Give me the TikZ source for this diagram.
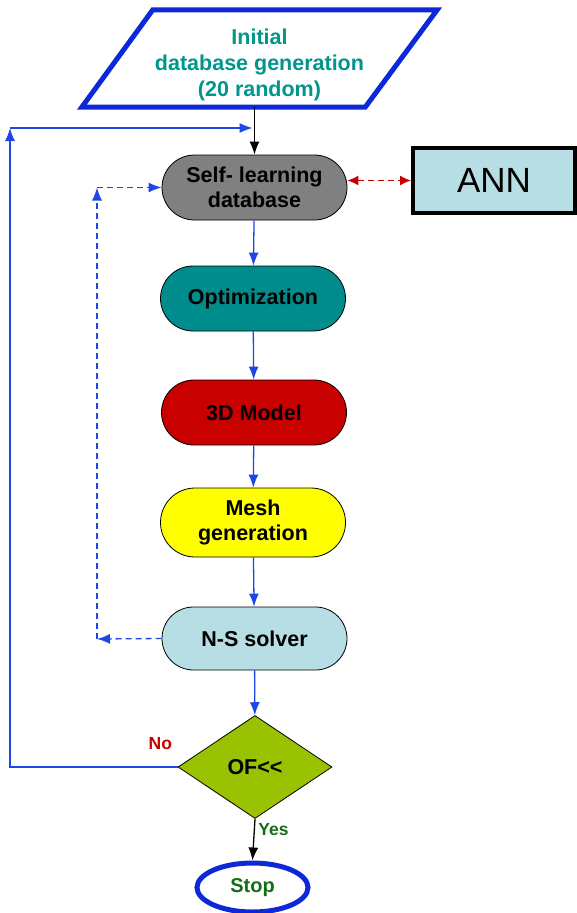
\documentclass[tikz,border=0pt]{standalone}
\usepackage{fontspec}
\setmainfont{Liberation Sans}
\usetikzlibrary{shapes,arrows.meta,positioning,calc}

\definecolor{frameblue}{RGB}{12,40,215}
\definecolor{linkblue}{RGB}{30,70,230}
\definecolor{tealtext}{RGB}{0,150,140}
\definecolor{optteal}{RGB}{0,140,140}
\definecolor{modelred}{RGB}{200,0,0}
\definecolor{meshyellow}{RGB}{255,255,0}
\definecolor{paleblue}{RGB}{183,222,228}
\definecolor{ofgreen}{RGB}{153,194,0}
\definecolor{yesgreen}{RGB}{20,110,20}

\begin{document}
\begin{tikzpicture}[x=1pt, y=-1pt,
    proc/.style={draw, rounded rectangle, line width=0.8pt, minimum width=185pt, minimum height=65pt,
        inner sep=0pt, align=center, font=\fontsize{21.5}{25}\selectfont\bfseries},
    tip/.style={-{Latex[length=13pt,width=10pt]}, line width=1.3pt},
    flow/.style={tip, linkblue},
    back/.style={flow, dashed, dash pattern=on 6pt off 4pt}
]
\useasboundingbox (0,0) rectangle (577,913);

% Input
\node[minimum width=355pt, minimum height=97pt, inner sep=0pt,
    align=center, text=tealtext, font=\fontsize{21.5}{26}\selectfont\bfseries] (init) at (259.5,64.5) {
    Initial\\database generation\\(20 random)
};
\draw[frameblue, line width=5pt] ($(init.north west)+(71,-6)$) -- ($(init.north east)+(0,-6)$)
    -- ($(init.south east)+(-72,-6)$) -- ($(init.south west)+(0,-6)$) -- cycle;

% Main loop
\node[proc, fill=gray] (self) at (254.5,187.5) {Self- learning\\database};
\node[proc, fill=optteal] (opt) at (253,298.5) {Optimization};
\node[proc, fill=modelred] (model) at (254,412.5) {3D Model};
\node[proc, fill=meshyellow, minimum height=69pt] (mesh) at (253,522.5) {Mesh\\generation};
\node[proc, fill=paleblue, minimum height=63pt] (solver) at (254.5,638.5) {N-S solver};

% ANN
\node[draw, line width=4pt, fill=paleblue, minimum width=162pt, minimum height=65pt,
    font=\fontsize{35}{40}\selectfont] (ann) at (494,180.5) {ANN};

% Decision and end
\node[draw, diamond, line width=0.8pt, fill=ofgreen, aspect=1.5, minimum width=154pt, minimum height=103pt,
    inner sep=0pt, font=\fontsize{21.5}{25}\selectfont\bfseries] (dec) at (255,767) {OF{<}{<}};
\node[draw=frameblue, ellipse, line width=5pt, minimum width=111pt, minimum height=49pt, inner sep=0pt,
    text=yesgreen, font=\fontsize{20}{24}\selectfont\bfseries] (stop) at (252.5,887.5) {Stop};

% Arrows
\draw[tip] ($(self.north |- init.south)+(0,-6)$) -- (self.north);
\draw[flow] (self) -- (opt);
\draw[flow] (opt) -- (model);
\draw[flow] (model) -- (mesh);
\draw[flow] (mesh) -- (solver);
\draw[flow] (solver) -- (dec);
\draw[tip] (dec.south) --
    node[right, pos=0.25, text=yesgreen, font=\fontsize{17.5}{20}\selectfont\bfseries] (yes) {Yes} (stop.north);
\draw[{Latex[length=11pt,width=10pt]}-{Latex[length=11pt,width=10pt]}, line width=1.3pt, modelred, dashed,
    dash pattern=on 6pt off 4pt] (self.east |- ann.west) -- (ann.west);

% No branch
\coordinate (nocorner) at (10,767);
\coordinate (notop) at (10,128);
\node[above left=14pt and 2pt of dec.west, text=modelred, font=\fontsize{17.5}{20}\selectfont\bfseries] (no) {No};
\draw[flow] (dec.west) -- (nocorner) -- (notop);
\draw[flow] (notop) -- ($(notop -| self.north)+(-2,0)$);

% Feedback from solver
\coordinate (fbdown) at (97,639);
\coordinate (fbup) at (97,187.5);
\draw[back] (solver.west) -- (fbdown);
\draw[back] (fbdown) -- (fbup);
\draw[back] (fbup) -- (self.west);

\end{tikzpicture}
\end{document}
